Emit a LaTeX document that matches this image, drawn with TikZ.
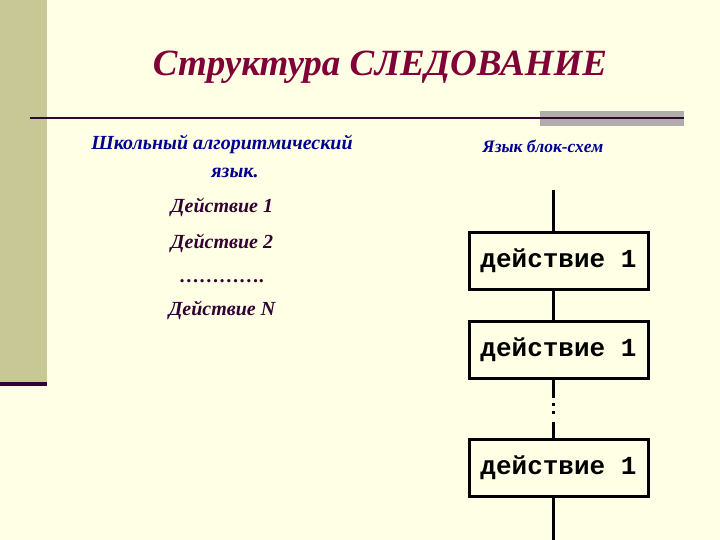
\documentclass[tikz,border=0pt]{standalone}
\usepackage{fontspec}
\setmainfont{Liberation Serif}
\newfontfamily\monofnt{Liberation Mono}
\definecolor{bgc}{HTML}{FFFFE5}
\definecolor{barc}{HTML}{C8C896}
\definecolor{darkp}{HTML}{330033}
\definecolor{titlec}{HTML}{800038}
\definecolor{bluec}{HTML}{000090}
\definecolor{grayc}{HTML}{B2ADAD}
\definecolor{linec}{HTML}{2B0A2B}
\tikzset{
  actbox/.style={draw=black, line width=3pt, minimum width=179pt, minimum height=57pt, inner sep=0pt, font=\monofnt\bfseries\fontsize{26}{26}\selectfont},
  flow/.style={draw=black, line width=3pt},
  lefttxt/.style={anchor=base, text=darkp, font=\bfseries\itshape\fontsize{20}{20}\selectfont},
  headtxt/.style={anchor=base, text=bluec, font=\bfseries\itshape\fontsize{20}{20}\selectfont}
}
\begin{document}
\begin{tikzpicture}[x=1pt,y=-1pt]
\useasboundingbox (0,0) rectangle (720,540);
\fill[bgc] (0,0) rectangle (720,540);
\fill[barc] (0,0) rectangle (47,382);
\fill[darkp] (0,382) rectangle (47,386);
\fill[grayc] (540,111) rectangle (684,126);
\draw[linec, line width=2pt] (30,118) -- (684,118);
\node[anchor=base, text=titlec, font=\bfseries\itshape\fontsize{37}{37}\selectfont] (title) at (380,76) {Структура СЛЕДОВАНИЕ};
\node[headtxt] (h1) at (222,150) {Школьный алгоритмический};
\node[headtxt] (h2) at (235,178) {язык.};
\node[lefttxt] (d1) at (222,213) {Действие 1};
\node[lefttxt] (d2) at (222,248) {Действие 2};
\node[lefttxt] (dd) at (222,282) {………….};
\node[lefttxt] (dn) at (222,315) {Действие N};
\node[anchor=base, text=bluec, font=\bfseries\itshape\fontsize{17.5}{17.5}\selectfont] (h3) at (543,153) {Язык блок-схем};
\node[actbox] (b1) at (558.5,261) {действие 1};
\node[actbox] (b2) at (558.5,350) {действие 1};
\node[actbox] (b3) at (558.5,468) {действие 1};
\coordinate (top) at (553,190);
\coordinate (bot) at (553,540);
\coordinate (m1) at (553,398);
\coordinate (m2) at (553,422);
\draw[flow] (top) -- (top |- b1.north);
\draw[flow] (top |- b1.south) -- (top |- b2.north);
\draw[flow] (top |- b2.south) -- (m1);
\fill (551.5,402.5) rectangle (554.5,405.5);
\fill (551.5,410.5) rectangle (554.5,413.5);
\draw[flow] (m2) -- (top |- b3.north);
\draw[flow] (top |- b3.south) -- (bot);
\end{tikzpicture}
\end{document}
